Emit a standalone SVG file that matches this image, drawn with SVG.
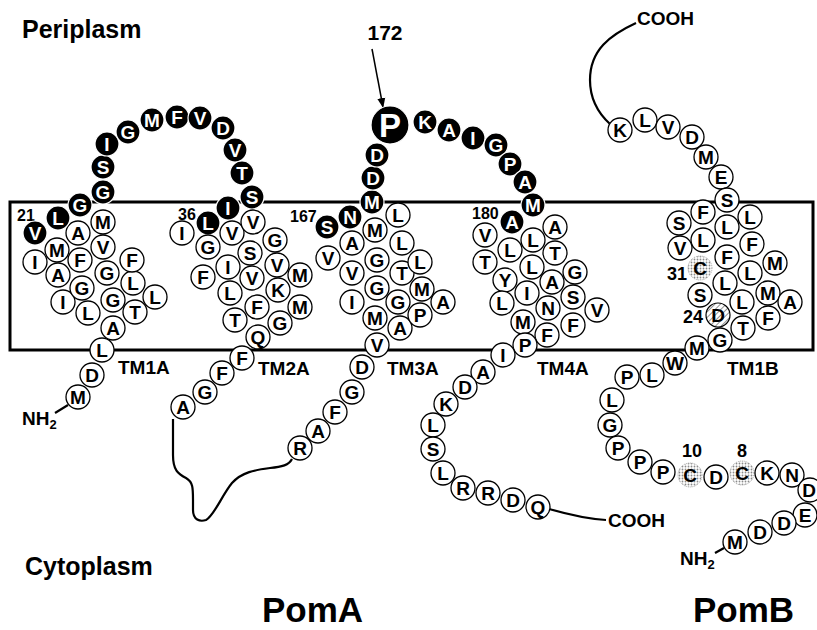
<svg xmlns="http://www.w3.org/2000/svg" width="817" height="630" viewBox="0 0 817 630">
<defs>
<pattern id="dots" width="3" height="3" patternUnits="userSpaceOnUse"><rect width="3" height="3" fill="#fff"/><circle cx="1.5" cy="1.5" r="0.9" fill="#8a8a8a"/></pattern>
<pattern id="hatch" width="4" height="4" patternUnits="userSpaceOnUse" patternTransform="rotate(45)"><rect width="4" height="4" fill="#fff"/><line x1="0" y1="0" x2="0" y2="4" stroke="#555" stroke-width="1.3"/></pattern>
<marker id="arr" markerWidth="10" markerHeight="10" refX="9" refY="5" orient="auto" markerUnits="userSpaceOnUse"><path d="M0,1 L10,5 L0,9 Z" fill="#000"/></marker>
</defs>
<style>
text{font-family:"Liberation Sans",Arial,Helvetica,sans-serif;font-weight:bold;fill:#000}
.w circle{fill:#fff;stroke:#000;stroke-width:1.3}
.b circle{fill:#000;stroke:#fff;stroke-width:1.2}
.s circle{fill:url(#dots);stroke:#aaa;stroke-width:1;stroke-dasharray:1 1}
.h circle{fill:url(#hatch);stroke:#000;stroke-width:1.2}
.w text,.b text,.s text,.h text{font-size:19px;text-anchor:middle}
.b text{fill:#fff}
.big text{font-size:33px}
.num{font-size:16px}
.numb{font-size:18px}
.tm{font-size:19px}
.reg{font-size:25px}
.prot{font-size:35px}
.term{font-size:19px}
.sub{font-size:13px}
.ln{fill:none;stroke:#000;stroke-width:2.2}
</style>
<rect x="0" y="0" width="817" height="630" fill="#fff"/>
<rect id="membrane" x="10" y="202" width="803" height="148" fill="none" stroke="#000" stroke-width="3"/>

<g id="connectors">
<path class="ln" d="M55,413 L68,405"/>
<path class="ln" d="M173,419 L173,455 C173,470 178,474 186,478 C193,482 193,488 193,500 L193,510 C193,520 200,522 206,520 C214,516 222,495 232,483 C242,472 255,470 270,468 C282,467 289,465 292,459"/>
<path class="ln" d="M549,509 C570,515 588,519 606,520"/>
<path class="ln" d="M636,23 C610,35 590,50 590,80 C590,100 598,113 610,124"/>
<path class="ln" d="M715,553 L724,548"/>
<path d="M372,49 L383,107" stroke="#000" stroke-width="1.5" fill="none" marker-end="url(#arr)"/>
</g>

<g id="labels">
<text x="22" y="38" class="reg">Periplasm</text>
<text x="25" y="575" class="reg">Cytoplasm</text>
<text x="262" y="622" class="prot">PomA</text>
<text x="693" y="622" class="prot">PomB</text>
<text x="385" y="40" text-anchor="middle" style="font-size:21px">172</text>
<text x="118" y="374" class="tm">TM1A</text>
<text x="258" y="375" class="tm">TM2A</text>
<text x="387" y="375" class="tm">TM3A</text>
<text x="537" y="375" class="tm">TM4A</text>
<text x="727" y="375" class="tm">TM1B</text>
<text x="17" y="221" class="num">21</text>
<text x="178" y="220" class="num">36</text>
<text x="290" y="222" class="num">167</text>
<text x="472" y="219" class="num">180</text>
<text x="687" y="280" class="numb" text-anchor="end">31</text>
<text x="703" y="323" class="numb" text-anchor="end">24</text>
<text x="692" y="457" class="numb" text-anchor="middle">10</text>
<text x="742" y="457" class="numb" text-anchor="middle">8</text>
<text x="22" y="425" class="term">NH<tspan class="sub" dy="4">2</tspan></text>
<text x="680" y="565" class="term">NH<tspan class="sub" dy="4">2</tspan></text>
<text x="608" y="527" class="term">COOH</text>
<text x="637" y="25" class="term">COOH</text>
</g>

<g id="PomA">
<g id="a01" class="w"><circle cx="78" cy="397" r="12"/><text x="78" y="403.8">M</text></g>
<g id="a02" class="w"><circle cx="92" cy="375" r="12"/><text x="92" y="381.8">D</text></g>
<g id="a03" class="w"><circle cx="102" cy="350" r="12"/><text x="102" y="356.8">L</text></g>
<g id="a04" class="w"><circle cx="113" cy="328" r="12"/><text x="113" y="334.8">A</text></g>
<g id="a05" class="w"><circle cx="88" cy="313" r="12"/><text x="88" y="319.8">L</text></g>
<g id="a06" class="w"><circle cx="135" cy="312" r="12"/><text x="135" y="318.8">T</text></g>
<g id="a07" class="w"><circle cx="63" cy="302" r="12"/><text x="63" y="308.8">I</text></g>
<g id="a08" class="w"><circle cx="113" cy="300" r="12"/><text x="113" y="306.8">G</text></g>
<g id="a09" class="w"><circle cx="155" cy="297" r="12"/><text x="155" y="303.8">L</text></g>
<g id="a10" class="w"><circle cx="82" cy="288" r="12"/><text x="82" y="294.8">G</text></g>
<g id="a11" class="w"><circle cx="133" cy="283" r="12"/><text x="133" y="289.8">L</text></g>
<g id="a12" class="w"><circle cx="58" cy="275" r="12"/><text x="58" y="281.8">A</text></g>
<g id="a13" class="w"><circle cx="107" cy="273" r="12"/><text x="107" y="279.8">G</text></g>
<g id="a14" class="w"><circle cx="35" cy="262" r="12"/><text x="35" y="268.8">I</text></g>
<g id="a15" class="w"><circle cx="80" cy="260" r="12"/><text x="80" y="266.8">F</text></g>
<g id="a16" class="w"><circle cx="132" cy="260" r="12"/><text x="132" y="266.8">F</text></g>
<g id="a17" class="w"><circle cx="57" cy="250" r="12"/><text x="57" y="256.8">M</text></g>
<g id="a18" class="w"><circle cx="103" cy="247" r="12"/><text x="103" y="253.8">V</text></g>
<g id="a19" class="w"><circle cx="78" cy="233" r="12"/><text x="78" y="239.8">A</text></g>
<g id="a20" class="w"><circle cx="103" cy="222" r="12"/><text x="103" y="228.8">M</text></g>
<g id="a21" class="b"><circle cx="35" cy="233" r="12"/><text x="35" y="239.8">V</text></g>
<g id="a22" class="b"><circle cx="58" cy="218" r="12"/><text x="58" y="224.8">L</text></g>
<g id="a23" class="b"><circle cx="80" cy="205" r="12"/><text x="80" y="211.8">G</text></g>
<g id="a24" class="b"><circle cx="103" cy="192" r="12"/><text x="103" y="198.8">G</text></g>
<g id="a25" class="b"><circle cx="103" cy="167" r="12"/><text x="103" y="173.8">S</text></g>
<g id="a26" class="b"><circle cx="107" cy="144" r="12"/><text x="107" y="150.8">I</text></g>
<g id="a27" class="b"><circle cx="128" cy="132" r="12"/><text x="128" y="138.8">G</text></g>
<g id="a28" class="b"><circle cx="152" cy="120" r="12"/><text x="152" y="126.8">M</text></g>
<g id="a29" class="b"><circle cx="177" cy="117" r="12"/><text x="177" y="123.8">F</text></g>
<g id="a30" class="b"><circle cx="200" cy="118" r="12"/><text x="200" y="124.8">V</text></g>
<g id="a31" class="b"><circle cx="223" cy="128" r="12"/><text x="223" y="134.8">D</text></g>
<g id="a32" class="b"><circle cx="235" cy="150" r="12"/><text x="235" y="156.8">V</text></g>
<g id="a33" class="b"><circle cx="242" cy="173" r="12"/><text x="242" y="179.8">T</text></g>
<g id="a34" class="b"><circle cx="252" cy="197" r="12"/><text x="252" y="203.8">S</text></g>
<g id="a35" class="b"><circle cx="228" cy="208" r="12"/><text x="228" y="214.8">I</text></g>
<g id="a36" class="b"><circle cx="208" cy="223" r="12"/><text x="208" y="229.8">L</text></g>
<g id="a37" class="w"><circle cx="182" cy="233" r="12"/><text x="182" y="239.8">I</text></g>
<g id="a38" class="w"><circle cx="208" cy="247" r="12"/><text x="208" y="253.8">G</text></g>
<g id="a39" class="w"><circle cx="232" cy="233" r="12"/><text x="232" y="239.8">V</text></g>
<g id="a40" class="w"><circle cx="253" cy="222" r="12"/><text x="253" y="228.8">V</text></g>
<g id="a41" class="w"><circle cx="275" cy="240" r="12"/><text x="275" y="246.8">G</text></g>
<g id="a42" class="w"><circle cx="250" cy="253" r="12"/><text x="250" y="259.8">S</text></g>
<g id="a43" class="w"><circle cx="277" cy="265" r="12"/><text x="277" y="271.8">V</text></g>
<g id="a44" class="w"><circle cx="228" cy="267" r="12"/><text x="228" y="273.8">I</text></g>
<g id="a45" class="w"><circle cx="203" cy="277" r="12"/><text x="203" y="283.8">F</text></g>
<g id="a46" class="w"><circle cx="252" cy="278" r="12"/><text x="252" y="284.8">V</text></g>
<g id="a47" class="w"><circle cx="300" cy="275" r="12"/><text x="300" y="281.8">M</text></g>
<g id="a48" class="w"><circle cx="230" cy="293" r="12"/><text x="230" y="299.8">L</text></g>
<g id="a49" class="w"><circle cx="278" cy="290" r="12"/><text x="278" y="296.8">K</text></g>
<g id="a50" class="w"><circle cx="257" cy="307" r="12"/><text x="257" y="313.8">F</text></g>
<g id="a51" class="w"><circle cx="300" cy="307" r="12"/><text x="300" y="313.8">M</text></g>
<g id="a52" class="w"><circle cx="235" cy="320" r="12"/><text x="235" y="326.8">T</text></g>
<g id="a53" class="w"><circle cx="280" cy="323" r="12"/><text x="280" y="329.8">G</text></g>
<g id="a54" class="w"><circle cx="258" cy="337" r="12"/><text x="258" y="343.8">Q</text></g>
<g id="a55" class="w"><circle cx="242" cy="358" r="12"/><text x="242" y="364.8">F</text></g>
<g id="a56" class="w"><circle cx="222" cy="373" r="12"/><text x="222" y="379.8">F</text></g>
<g id="a57" class="w"><circle cx="205" cy="392" r="12"/><text x="205" y="398.8">G</text></g>
<g id="a58" class="w"><circle cx="183" cy="407" r="12"/><text x="183" y="413.8">A</text></g>
<g id="a59" class="w"><circle cx="300" cy="448" r="12"/><text x="300" y="454.8">R</text></g>
<g id="a60" class="w"><circle cx="318" cy="431" r="12"/><text x="318" y="437.8">A</text></g>
<g id="a61" class="w"><circle cx="335" cy="412" r="12"/><text x="335" y="418.8">F</text></g>
<g id="a62" class="w"><circle cx="352" cy="392" r="12"/><text x="352" y="398.8">G</text></g>
<g id="a63" class="w"><circle cx="362" cy="367" r="12"/><text x="362" y="373.8">D</text></g>
<g id="a64" class="w"><circle cx="377" cy="345" r="12"/><text x="377" y="351.8">V</text></g>
<g id="a65" class="w"><circle cx="400" cy="328" r="12"/><text x="400" y="334.8">A</text></g>
<g id="a66" class="w"><circle cx="375" cy="318" r="12"/><text x="375" y="324.8">M</text></g>
<g id="a67" class="w"><circle cx="420" cy="315" r="12"/><text x="420" y="321.8">P</text></g>
<g id="a68" class="w"><circle cx="352" cy="302" r="12"/><text x="352" y="308.8">I</text></g>
<g id="a69" class="w"><circle cx="398" cy="302" r="12"/><text x="398" y="308.8">G</text></g>
<g id="a70" class="w"><circle cx="443" cy="302" r="12"/><text x="443" y="308.8">A</text></g>
<g id="a71" class="w"><circle cx="377" cy="288" r="12"/><text x="377" y="294.8">G</text></g>
<g id="a72" class="w"><circle cx="422" cy="289" r="12"/><text x="422" y="295.8">M</text></g>
<g id="a73" class="w"><circle cx="352" cy="273" r="12"/><text x="352" y="279.8">V</text></g>
<g id="a74" class="w"><circle cx="402" cy="273" r="12"/><text x="402" y="279.8">T</text></g>
<g id="a75" class="w"><circle cx="328" cy="258" r="12"/><text x="328" y="264.8">V</text></g>
<g id="a76" class="w"><circle cx="377" cy="260" r="12"/><text x="377" y="266.8">G</text></g>
<g id="a77" class="w"><circle cx="420" cy="262" r="12"/><text x="420" y="268.8">L</text></g>
<g id="a78" class="w"><circle cx="352" cy="243" r="12"/><text x="352" y="249.8">A</text></g>
<g id="a79" class="w"><circle cx="402" cy="243" r="12"/><text x="402" y="249.8">L</text></g>
<g id="a80" class="w"><circle cx="375" cy="230" r="12"/><text x="375" y="236.8">M</text></g>
<g id="a81" class="w"><circle cx="398" cy="215" r="12"/><text x="398" y="221.8">L</text></g>
<g id="a82" class="b"><circle cx="327" cy="227" r="12"/><text x="327" y="233.8">S</text></g>
<g id="a83" class="b"><circle cx="350" cy="217" r="12"/><text x="350" y="223.8">N</text></g>
<g id="a84" class="b"><circle cx="372" cy="202" r="12"/><text x="372" y="208.8">M</text></g>
<g id="a85" class="b"><circle cx="373" cy="178" r="12"/><text x="373" y="184.8">D</text></g>
<g id="a86" class="b"><circle cx="377" cy="155" r="12"/><text x="377" y="161.8">D</text></g>
<g id="a87" class="b big"><circle cx="390" cy="125" r="19"/><text x="390" y="136.8">P</text></g>
<g id="a88" class="b"><circle cx="425" cy="122" r="12"/><text x="425" y="128.8">K</text></g>
<g id="a89" class="b"><circle cx="449" cy="130" r="12"/><text x="449" y="136.8">A</text></g>
<g id="a90" class="b"><circle cx="473" cy="138" r="12"/><text x="473" y="144.8">I</text></g>
<g id="a91" class="b"><circle cx="496" cy="145" r="12"/><text x="496" y="151.8">G</text></g>
<g id="a92" class="b"><circle cx="510" cy="164" r="12"/><text x="510" y="170.8">P</text></g>
<g id="a93" class="b"><circle cx="525" cy="182" r="12"/><text x="525" y="188.8">A</text></g>
<g id="a94" class="b"><circle cx="533" cy="205" r="12"/><text x="533" y="211.8">M</text></g>
<g id="a95" class="b"><circle cx="512" cy="222" r="12"/><text x="512" y="228.8">A</text></g>
<g id="a96" class="w"><circle cx="485" cy="235" r="12"/><text x="485" y="241.8">V</text></g>
<g id="a97" class="w"><circle cx="555" cy="227" r="12"/><text x="555" y="233.8">A</text></g>
<g id="a98" class="w"><circle cx="533" cy="240" r="12"/><text x="533" y="246.8">L</text></g>
<g id="a99" class="w"><circle cx="510" cy="250" r="12"/><text x="510" y="256.8">L</text></g>
<g id="a100" class="w"><circle cx="555" cy="253" r="12"/><text x="555" y="259.8">T</text></g>
<g id="a101" class="w"><circle cx="485" cy="262" r="12"/><text x="485" y="268.8">T</text></g>
<g id="a102" class="w"><circle cx="532" cy="267" r="12"/><text x="532" y="273.8">L</text></g>
<g id="a103" class="w"><circle cx="575" cy="272" r="12"/><text x="575" y="278.8">G</text></g>
<g id="a104" class="w"><circle cx="505" cy="280" r="12"/><text x="505" y="286.8">Y</text></g>
<g id="a105" class="w"><circle cx="552" cy="282" r="12"/><text x="552" y="288.8">A</text></g>
<g id="a106" class="w"><circle cx="527" cy="293" r="12"/><text x="527" y="299.8">I</text></g>
<g id="a107" class="w"><circle cx="573" cy="297" r="12"/><text x="573" y="303.8">S</text></g>
<g id="a108" class="w"><circle cx="502" cy="303" r="12"/><text x="502" y="309.8">L</text></g>
<g id="a109" class="w"><circle cx="548" cy="308" r="12"/><text x="548" y="314.8">N</text></g>
<g id="a110" class="w"><circle cx="597" cy="310" r="12"/><text x="597" y="316.8">V</text></g>
<g id="a111" class="w"><circle cx="523" cy="322" r="12"/><text x="523" y="328.8">M</text></g>
<g id="a112" class="w"><circle cx="573" cy="325" r="12"/><text x="573" y="331.8">F</text></g>
<g id="a113" class="w"><circle cx="547" cy="335" r="12"/><text x="547" y="341.8">F</text></g>
<g id="a114" class="w"><circle cx="525" cy="345" r="12"/><text x="525" y="351.8">P</text></g>
<g id="a115" class="w"><circle cx="503" cy="355" r="12"/><text x="503" y="361.8">I</text></g>
<g id="a116" class="w"><circle cx="483" cy="372" r="12"/><text x="483" y="378.8">A</text></g>
<g id="a117" class="w"><circle cx="465" cy="387" r="12"/><text x="465" y="393.8">D</text></g>
<g id="a118" class="w"><circle cx="446" cy="404" r="12"/><text x="446" y="410.8">K</text></g>
<g id="a119" class="w"><circle cx="433" cy="425" r="12"/><text x="433" y="431.8">L</text></g>
<g id="a120" class="w"><circle cx="433" cy="449" r="12"/><text x="433" y="455.8">S</text></g>
<g id="a121" class="w"><circle cx="443" cy="473" r="12"/><text x="443" y="479.8">L</text></g>
<g id="a122" class="w"><circle cx="463" cy="488" r="12"/><text x="463" y="494.8">R</text></g>
<g id="a123" class="w"><circle cx="488" cy="493" r="12"/><text x="488" y="499.8">R</text></g>
<g id="a124" class="w"><circle cx="513" cy="500" r="12"/><text x="513" y="506.8">D</text></g>
<g id="a125" class="w"><circle cx="538" cy="507" r="12"/><text x="538" y="513.8">Q</text></g>
</g>

<g id="PomB">
<g id="b01" class="w"><circle cx="620" cy="130" r="12"/><text x="620" y="136.8">K</text></g>
<g id="b02" class="w"><circle cx="645" cy="120" r="12"/><text x="645" y="126.8">L</text></g>
<g id="b03" class="w"><circle cx="668" cy="127" r="12"/><text x="668" y="133.8">V</text></g>
<g id="b04" class="w"><circle cx="692" cy="137" r="12"/><text x="692" y="143.8">D</text></g>
<g id="b05" class="w"><circle cx="706" cy="157" r="12"/><text x="706" y="163.8">M</text></g>
<g id="b06" class="w"><circle cx="721" cy="177" r="12"/><text x="721" y="183.8">E</text></g>
<g id="b07" class="w"><circle cx="727" cy="200" r="12"/><text x="727" y="206.8">S</text></g>
<g id="b08" class="w"><circle cx="703" cy="212" r="12"/><text x="703" y="218.8">F</text></g>
<g id="b09" class="w"><circle cx="750" cy="217" r="12"/><text x="750" y="223.8">L</text></g>
<g id="b10" class="w"><circle cx="679" cy="223" r="12"/><text x="679" y="229.8">S</text></g>
<g id="b11" class="w"><circle cx="727" cy="227" r="12"/><text x="727" y="233.8">L</text></g>
<g id="b12" class="w"><circle cx="703" cy="240" r="12"/><text x="703" y="246.8">L</text></g>
<g id="b13" class="w"><circle cx="752" cy="244" r="12"/><text x="752" y="250.8">F</text></g>
<g id="b14" class="w"><circle cx="680" cy="248" r="12"/><text x="680" y="254.8">V</text></g>
<g id="b15" class="w"><circle cx="727" cy="257" r="12"/><text x="727" y="263.8">F</text></g>
<g id="b16" class="w"><circle cx="775" cy="263" r="12"/><text x="775" y="269.8">M</text></g>
<g id="b17" class="s"><circle cx="700" cy="268" r="12"/><text x="700" y="274.8">C</text></g>
<g id="b18" class="w"><circle cx="750" cy="273" r="12"/><text x="750" y="279.8">L</text></g>
<g id="b19" class="w"><circle cx="725" cy="283" r="12"/><text x="725" y="289.8">L</text></g>
<g id="b20" class="w"><circle cx="700" cy="295" r="12"/><text x="700" y="301.8">S</text></g>
<g id="b21" class="w"><circle cx="768" cy="293" r="12"/><text x="768" y="299.8">M</text></g>
<g id="b22" class="w"><circle cx="790" cy="302" r="12"/><text x="790" y="308.8">A</text></g>
<g id="b23" class="w"><circle cx="742" cy="302" r="12"/><text x="742" y="308.8">L</text></g>
<g id="b24" class="h"><circle cx="718" cy="315" r="12"/><text x="718" y="321.8">D</text></g>
<g id="b25" class="w"><circle cx="768" cy="318" r="12"/><text x="768" y="324.8">F</text></g>
<g id="b26" class="w"><circle cx="743" cy="328" r="12"/><text x="743" y="334.8">T</text></g>
<g id="b27" class="w"><circle cx="720" cy="340" r="12"/><text x="720" y="346.8">G</text></g>
<g id="b28" class="w"><circle cx="697" cy="348" r="12"/><text x="697" y="354.8">M</text></g>
<g id="b29" class="w"><circle cx="675" cy="363" r="12"/><text x="675" y="369.8">W</text></g>
<g id="b30" class="w"><circle cx="652" cy="375" r="12"/><text x="652" y="381.8">L</text></g>
<g id="b31" class="w"><circle cx="627" cy="377" r="12"/><text x="627" y="383.8">P</text></g>
<g id="b32" class="w"><circle cx="612" cy="400" r="12"/><text x="612" y="406.8">L</text></g>
<g id="b33" class="w"><circle cx="610" cy="425" r="12"/><text x="610" y="431.8">G</text></g>
<g id="b34" class="w"><circle cx="618" cy="448" r="12"/><text x="618" y="454.8">P</text></g>
<g id="b35" class="w"><circle cx="640" cy="462" r="12"/><text x="640" y="468.8">P</text></g>
<g id="b36" class="w"><circle cx="663" cy="472" r="12"/><text x="663" y="478.8">P</text></g>
<g id="b37" class="s"><circle cx="690" cy="475" r="12"/><text x="690" y="481.8">C</text></g>
<g id="b38" class="w"><circle cx="716" cy="477" r="12"/><text x="716" y="483.8">D</text></g>
<g id="b39" class="s"><circle cx="742" cy="473" r="12"/><text x="742" y="479.8">C</text></g>
<g id="b40" class="w"><circle cx="767" cy="473" r="12"/><text x="767" y="479.8">K</text></g>
<g id="b41" class="w"><circle cx="792" cy="475" r="12"/><text x="792" y="481.8">N</text></g>
<g id="b42" class="w"><circle cx="810" cy="490" r="12"/><text x="809" y="496.8">D</text></g>
<g id="b43" class="w"><circle cx="805" cy="515" r="12"/><text x="805" y="521.8">E</text></g>
<g id="b44" class="w"><circle cx="784" cy="523" r="12"/><text x="784" y="529.8">D</text></g>
<g id="b45" class="w"><circle cx="760" cy="532" r="12"/><text x="760" y="538.8">D</text></g>
<g id="b46" class="w"><circle cx="735" cy="542" r="12"/><text x="735" y="548.8">M</text></g>
</g>
</svg>
